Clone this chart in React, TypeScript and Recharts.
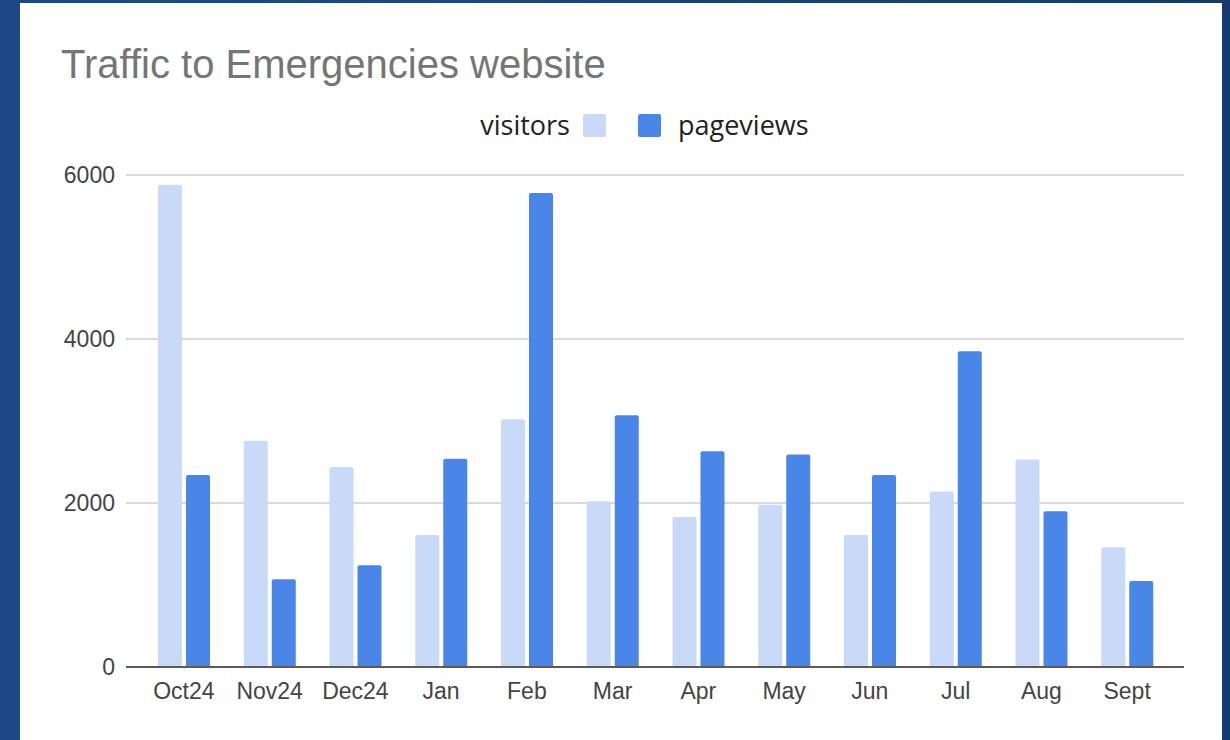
import { BarChart, Bar, XAxis, YAxis, CartesianGrid } from "recharts";

const months = ["Oct24", "Nov24", "Dec24", "Jan", "Feb", "Mar", "Apr", "May", "Jun", "Jul", "Aug", "Sept"];
const visitors = [5880, 2760, 2440, 1610, 3020, 2020, 1830, 1980, 1610, 2140, 2530, 1460];
const pageviews = [2340, 1070, 1240, 2540, 5780, 3070, 2630, 2590, 2340, 3850, 1900, 1050];
const yTicks = [0, 2000, 4000, 6000];

const series = [
  { key: "visitors", name: "visitors", color: "#c9daf8" },
  { key: "pageviews", name: "pageviews", color: "#4a86e8" },
];

const chartTitle = "Traffic to Emergencies website";

const data = months.map((m, i) => ({
  month: m,
  visitors: visitors[i],
  pageviews: pageviews[i],
}));

const tickFont = '"Liberation Sans", Arial, sans-serif';

export default function App() {
  return (
    <div
      style={{
        position: "absolute",
        left: 0,
        top: 0,
        width: 1230,
        height: 740,
        overflow: "hidden",
        background: "linear-gradient(90deg, #1d4a86 0%, #1a4580 50%, #163a70 100%)",
      }}
    >
      <div
        style={{
          position: "absolute",
          left: 20,
          top: 3,
          width: 1202,
          height: 760,
          background: "#ffffff",
        }}
      />
      <div style={{ position: "absolute", left: 0, top: 0 }}>
        <BarChart
          width={1230}
          height={740}
          data={data}
          margin={{ top: 175, right: 46, bottom: 23, left: 0 }}
          barSize={24}
          barGap={4}
        >
          <CartesianGrid vertical={false} stroke="#dadada" strokeWidth={2} />
          <XAxis
            dataKey="month"
            height={50}
            padding={{ left: 15, right: 14 }}
            axisLine={{ stroke: "#5a5a5a", strokeWidth: 2 }}
            tickLine={false}
            tickMargin={10}
            tick={{ fill: "#444444", fontSize: 23, fontFamily: tickFont }}
            interval={0}
          />
          <YAxis
            width={126}
            domain={[0, 6000]}
            ticks={yTicks}
            axisLine={false}
            tickLine={false}
            tickMargin={5}
            tick={{ fill: "#444444", fontSize: 23, fontFamily: tickFont }}
          />
          {series.map((s) => (
            <Bar
              key={s.key}
              dataKey={s.key}
              name={s.name}
              fill={s.color}
              radius={[2, 2, 0, 0]}
              isAnimationActive={false}
            />
          ))}
        </BarChart>
      </div>
      <svg
        width={1230}
        height={740}
        style={{ position: "absolute", left: 0, top: 0, pointerEvents: "none" }}
      >
        <text x={61} y={78} fill="#757575" fontSize={40} fontFamily={tickFont}>
          {chartTitle}
        </text>
        {/* legend: label, swatch | swatch, label */}
        <text
          x={570}
          y={135}
          textAnchor="end"
          fill="#222222"
          fontSize={27}
          fontFamily='"Open Sans", sans-serif'
        >
          {series[0].name}
        </text>
        <rect x={583} y={114} width={23} height={23} rx={2} fill={series[0].color} />
        <rect x={638} y={114} width={23} height={23} rx={2} fill={series[1].color} />
        <text
          x={678}
          y={135}
          fill="#222222"
          fontSize={27}
          fontFamily='"Open Sans", sans-serif'
        >
          {series[1].name}
        </text>
      </svg>
    </div>
  );
}
